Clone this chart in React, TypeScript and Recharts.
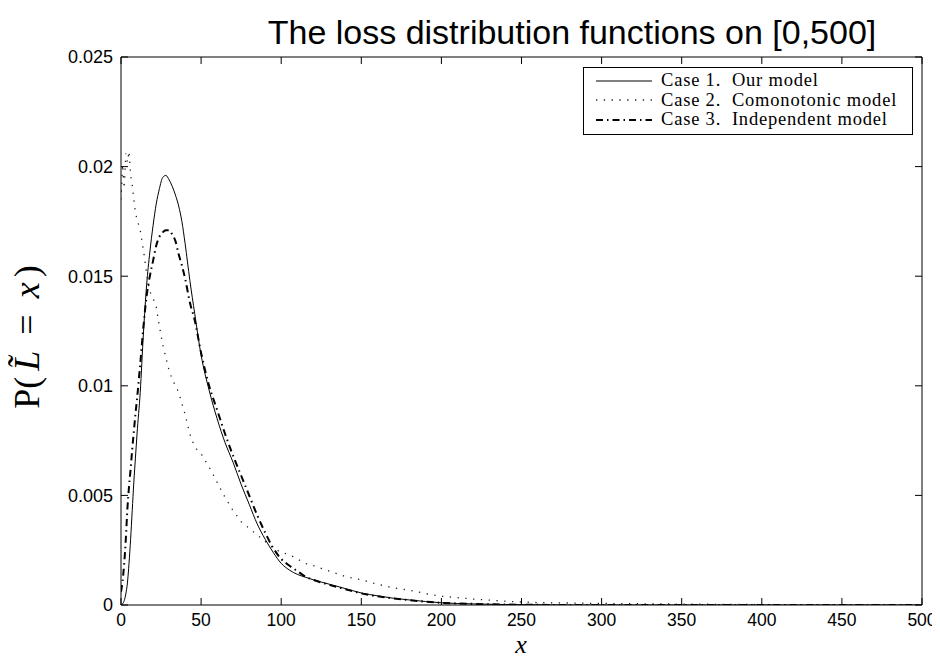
import React from "react";
import { LineChart, Line, XAxis, YAxis, Customized } from "recharts";

const xs = [0, 1, 2, 3, 4, 5, 6, 7, 8, 9, 10, 12, 14, 16, 18, 20, 22, 24, 26, 28, 30, 32, 34, 36, 38, 40, 43, 46, 50, 55, 60, 65, 70, 75, 80, 85, 90, 95, 100, 105, 110, 115, 120, 130, 140, 150, 160, 170, 180, 190, 200, 220, 240, 260, 280, 300, 350, 400, 450, 500];

const case1 = [0, 0.00005, 0.0002, 0.0005, 0.001, 0.0019, 0.003, 0.0043, 0.0056, 0.0067, 0.0078, 0.0097, 0.0124, 0.0146, 0.0161, 0.0173, 0.0183, 0.019, 0.0195, 0.0196, 0.0194, 0.0191, 0.0187, 0.0182, 0.0175, 0.0165, 0.0148, 0.0133, 0.0114, 0.0098, 0.0085, 0.0074, 0.0065, 0.0055, 0.0046, 0.0037, 0.003, 0.0024, 0.0019, 0.0016, 0.0014, 0.00127, 0.00115, 0.00095, 0.00075, 0.00055, 0.00042, 0.00031, 0.00023, 0.00016, 0.0001, 0.00005, 0.00002, 0.00001, 0, 0, 0, 0, 0, 0];

const case2 = [0.0185, 0.0201, 0.019, 0.0206, 0.0202, 0.0207, 0.0196, 0.0192, 0.0185, 0.0179, 0.0176, 0.0171, 0.0162, 0.0151, 0.0143, 0.014, 0.0136, 0.0127, 0.0119, 0.0113, 0.0107, 0.0103, 0.01, 0.0097, 0.0092, 0.0087, 0.0078, 0.0072, 0.0069, 0.0063, 0.0056, 0.0049, 0.0043, 0.0038, 0.0035, 0.0032, 0.0029, 0.0026, 0.0024, 0.0023, 0.0021, 0.0019, 0.0018, 0.00155, 0.0013, 0.00115, 0.00095, 0.00078, 0.00068, 0.00052, 0.0004, 0.00027, 0.00017, 0.00011, 0.00009, 0.00007, 0.00004, 0.00002, 0.00001, 0];

const case3 = [0.0006, 0.0011, 0.0019, 0.003, 0.0044, 0.0054, 0.0062, 0.0071, 0.0079, 0.0087, 0.0094, 0.011, 0.0127, 0.0141, 0.015, 0.0157, 0.0164, 0.0168, 0.017, 0.0171, 0.0171, 0.0169, 0.0166, 0.016, 0.0155, 0.0149, 0.0138, 0.013, 0.0115, 0.01, 0.0089, 0.0078, 0.0068, 0.0059, 0.005, 0.0041, 0.0033, 0.0026, 0.0021, 0.0018, 0.00155, 0.0013, 0.00115, 0.00092, 0.00072, 0.00053, 0.0004, 0.0003, 0.00022, 0.00015, 0.0001, 0.00005, 0.00002, 0.00001, 0, 0, 0, 0, 0, 0];

const xTicks = [0, 50, 100, 150, 200, 250, 300, 350, 400, 450, 500];
const yTicks = [0, 0.005, 0.01, 0.015, 0.02, 0.025];

const seriesNames = ["Case 1.  Our model", "Case 2.  Comonotonic model", "Case 3.  Independent model"];
const titleText = "The loss distribution functions on [0,500]";

const data = xs.map((x, i) => ({ x, case1: case1[i], case2: case2[i], case3: case3[i] }));

const SANS = "'Liberation Sans', Arial, Helvetica, sans-serif";
const SERIF = "'Liberation Serif', 'Times New Roman', serif";
const TICK = 7;

const fmtY = (v: number) => (v === 0 ? "0" : String(+v.toFixed(3)));

const BottomTick = (p: any) => (
  <g>
    <line x1={p.x} y1={p.y} x2={p.x} y2={p.y - TICK} stroke="#000" strokeWidth={1} />
    <text x={p.x} y={p.y + 21} textAnchor="middle" fontSize={17.5} fontFamily={SANS} fill="#000">
      {p.payload.value}
    </text>
  </g>
);
const TopTick = (p: any) => (
  <line x1={p.x} y1={p.y} x2={p.x} y2={p.y + TICK} stroke="#000" strokeWidth={1} />
);
const LeftTick = (p: any) => (
  <g>
    <line x1={p.x} y1={p.y} x2={p.x + TICK} y2={p.y} stroke="#000" strokeWidth={1} />
    <text x={p.x - 8} y={p.y} dy="0.36em" textAnchor="end" fontSize={18} fontFamily={SANS} fill="#000">
      {fmtY(p.payload.value)}
    </text>
  </g>
);
const RightTick = (p: any) => (
  <line x1={p.x} y1={p.y} x2={p.x - TICK} y2={p.y} stroke="#000" strokeWidth={1} />
);

const styles = [
  { stroke: "#000", width: 1, dash: undefined as string | undefined },
  { stroke: "#222", width: 1.3, dash: "1.3 6.5" },
  { stroke: "#000", width: 2, dash: "7 4 1.5 4" },
];

const LegendBox = () => (
  <div
    style={{
      position: "absolute",
      left: 575,
      top: 59,
      border: "1.5px solid #000",
      background: "#fff",
      padding: "3px 0 4px 0",
      width: 330,
      boxSizing: "border-box",
    }}
  >
    {seriesNames.map((n, i) => (
      <div key={n} style={{ display: "flex", alignItems: "center", height: 19.5 }}>
        <svg width={70} height={10} style={{ flex: "none" }}>
          <line
            x1={12}
            y1={5}
            x2={68}
            y2={5}
            stroke={styles[i].stroke}
            strokeWidth={styles[i].width}
            strokeDasharray={styles[i].dash}
          />
        </svg>
        <span
          style={{
            fontFamily: SERIF,
            fontSize: 18.5,
            letterSpacing: 0.8,
            color: "#000",
            marginLeft: 7,
            whiteSpace: "pre",
            lineHeight: "19px",
          }}
        >
          {n}
        </span>
      </div>
    ))}
  </div>
);

const Labels = () => (
  <g>
    <text x={564} y={36} textAnchor="middle" fontSize={34} fontFamily={SANS} fill="#000">
      {titleText}
    </text>
    <text x={513} y={645} textAnchor="middle" fontSize={26} fontStyle="italic" fontFamily={SERIF} fill="#000">
      x
    </text>
    <text transform="translate(31,329) rotate(-90)" textAnchor="middle" fontSize={36} fontFamily={SERIF} fill="#000">
      <tspan>P(</tspan>
      <tspan fontStyle="italic" dx={6}>{"L\u0303"}</tspan>
      <tspan dx={16}>=</tspan>
      <tspan fontStyle="italic" dx={16}>x</tspan>
      <tspan dx={5}>)</tspan>
    </text>
  </g>
);

export default function App() {
  return (
    <div style={{ width: 932, height: 652, position: "relative", background: "#fff" }}>
      <LineChart width={932} height={652} data={data} margin={{ top: 48, right: 17, bottom: 25, left: 53 }}>
        <XAxis
          dataKey="x"
          type="number"
          domain={[0, 500]}
          ticks={xTicks}
          allowDataOverflow
          height={30}
          tickLine={false}
          tickSize={0}
          tickMargin={0}
          tick={<BottomTick />}
          axisLine={{ stroke: "#000" }}
          interval={0}
        />
        <XAxis
          xAxisId="top"
          orientation="top"
          dataKey="x"
          type="number"
          domain={[0, 500]}
          ticks={xTicks}
          allowDataOverflow
          height={1}
          tickLine={false}
          tickSize={0}
          tickMargin={0}
          tick={<TopTick />}
          axisLine={{ stroke: "#000" }}
          interval={0}
        />
        <YAxis
          type="number"
          domain={[0, 0.025]}
          ticks={yTicks}
          allowDataOverflow
          width={60}
          tickLine={false}
          tickSize={0}
          tickMargin={0}
          tick={<LeftTick />}
          axisLine={{ stroke: "#000" }}
          interval={0}
        />
        <YAxis
          yAxisId="right"
          orientation="right"
          type="number"
          domain={[0, 0.025]}
          ticks={yTicks}
          allowDataOverflow
          width={1}
          tickLine={false}
          tickSize={0}
          tickMargin={0}
          tick={<RightTick />}
          axisLine={{ stroke: "#000" }}
          interval={0}
        />
        <Line
          type="monotone"
          dataKey="case1"
          xAxisId="top"
          name={seriesNames[0]}
          stroke={styles[0].stroke}
          strokeWidth={styles[0].width}
          dot={false}
          isAnimationActive={false}
        />
        <Line
          type="linear"
          dataKey="case2"
          name={seriesNames[1]}
          stroke={styles[1].stroke}
          strokeWidth={styles[1].width}
          strokeDasharray={styles[1].dash}
          dot={false}
          isAnimationActive={false}
        />
        <Line
          type="monotone"
          dataKey="case3"
          yAxisId="right"
          name={seriesNames[2]}
          stroke={styles[2].stroke}
          strokeWidth={styles[2].width}
          strokeDasharray={styles[2].dash}
          dot={false}
          isAnimationActive={false}
        />
        <Customized component={<Labels />} />
      </LineChart>
      <LegendBox />
    </div>
  );
}
